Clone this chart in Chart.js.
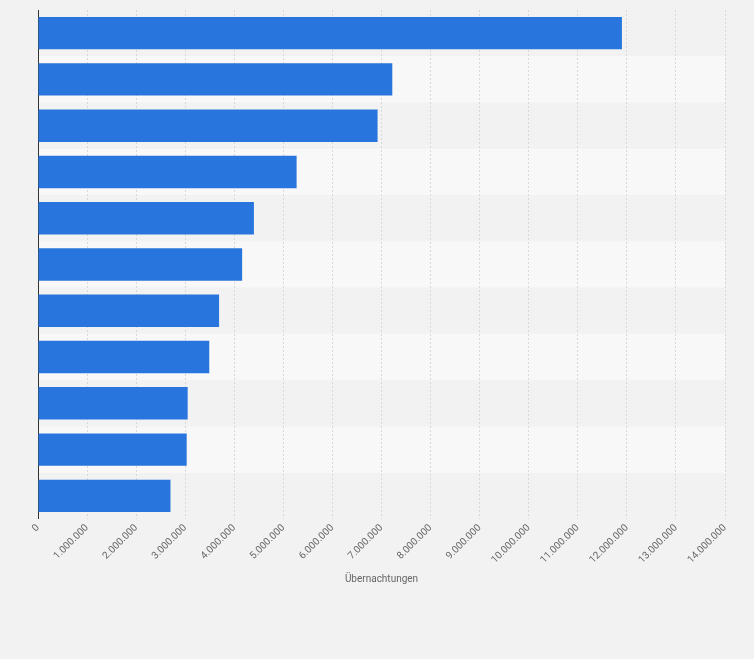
<!DOCTYPE html>
<html><head><meta charset="utf-8">
<script src="https://cdn.jsdelivr.net/npm/chart.js@4"></script>
<style>html,body{margin:0;background:#f2f2f2}#wrap{width:754px;height:659px}</style>
</head><body><div id="wrap"><canvas id="c"></canvas></div>
<script>
// categories (no names shown in the picture)
const categories = ["1","2","3","4","5","6","7","8","9","10","11"];
const nights = [11900000,7220000,6920000,5270000,4400000,4160000,3690000,3490000,3050000,3030000,2700000];
const tickStep = 1000000;

// alternating row bands
const bands = {
  id: "bands",
  beforeDraw(chart) {
    const {ctx, chartArea: a, scales: {y}} = chart;
    const h = (y.bottom - y.top) / categories.length;
    categories.forEach((c, i) => {
      ctx.fillStyle = i % 2 ? "#f8f8f8" : "#f2f2f2";
      ctx.fillRect(a.left, y.top + i * h, a.right - a.left, h);
    });
  }
};

new Chart(document.getElementById("c"), {
  type: "bar",
  data: { labels: categories, datasets: [{ data: nights, backgroundColor: "#2876dd", barPercentage: 0.7, categoryPercentage: 1 }] },
  options: {
    indexAxis: "y", responsive: true, maintainAspectRatio: false, animation: false,
    layout: { padding: { left: 30, right: 29, top: 10, bottom: 70 } },
    plugins: { legend: { display: false }, tooltip: { enabled: false } },
    scales: {
      x: {
        min: 0, max: 14000000,
        ticks: { stepSize: tickStep, maxRotation: 45, minRotation: 45, color: "#666", font: { family: "Roboto", size: 10 },
          callback: v => v.toLocaleString("de-DE") },
        grid: { color: "#d8d8d8", borderDash: [2, 2], drawTicks: false },
        border: { display: false, dash: [2, 2] },
        title: { display: true, text: "Übernachtungen", color: "#666", font: { family: "Roboto", size: 10 } }
      },
      y: {
        ticks: { display: false },
        grid: { display: false },
        border: { color: "#333", width: 1 }
      }
    }
  },
  plugins: [bands]
});
</script></body></html>
